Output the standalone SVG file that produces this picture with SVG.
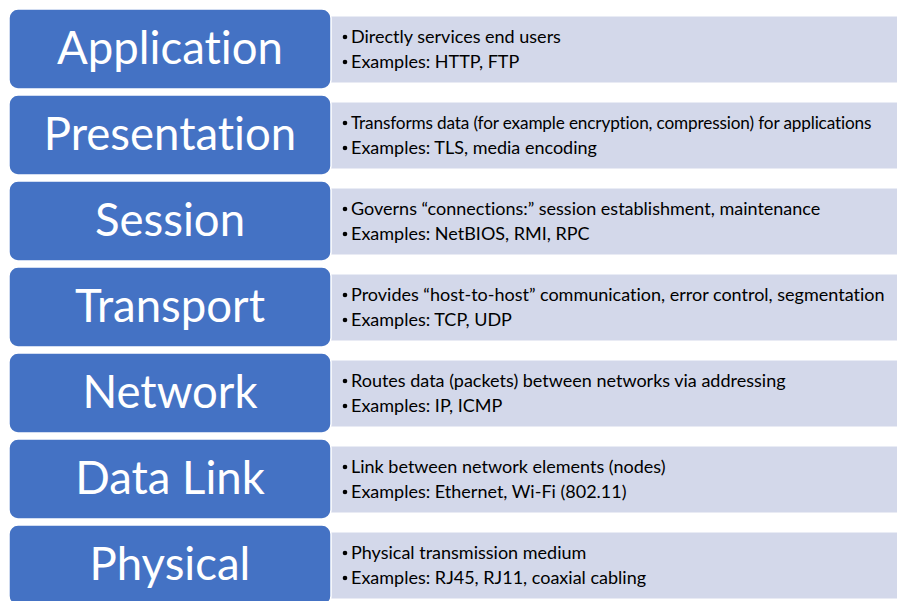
<svg xmlns="http://www.w3.org/2000/svg" width="897" height="601" viewBox="0 0 897 601">
<style>
.blue{fill:#4472C4;stroke:#ffffff;stroke-width:1.5}
.light{fill:#D3D8EA;stroke:#ffffff;stroke-width:1}
.h{font-family:Lato,"Open Sans",sans-serif;font-size:45.5px;fill:#ffffff;text-anchor:middle;font-variant-ligatures:none}
.b{font-family:Lato,"Open Sans",sans-serif;font-size:18px;fill:#000000;font-variant-ligatures:none}
.d{fill:#000000}
</style>
<defs><circle id="dot" r="2.3" class="d"/></defs>
<rect width="897" height="601" fill="#ffffff"/>
<g id="application" transform="translate(0,9)">
<rect class="light" x="330" y="7" width="580" height="67"/>
<rect class="blue" x="9" y="0" width="322" height="80" rx="9"/>
<text class="h" x="170" y="55">Application</text>
<use href="#dot" x="345" y="28"/><text class="b" x="351" y="34">Directly services end users</text>
<use href="#dot" x="345" y="53"/><text class="b" x="351" y="59">Examples: HTTP, FTP</text>
</g>
<g id="presentation" transform="translate(0,95)">
<rect class="light" x="330" y="7" width="580" height="67"/>
<rect class="blue" x="9" y="0" width="322" height="80" rx="9"/>
<text class="h" x="170" y="55">Presentation</text>
<use href="#dot" x="345" y="28"/><text class="b" x="351" y="34" style="font-size:17.2px;letter-spacing:-0.15px">Transforms data (for example encryption, compression) for applications</text>
<use href="#dot" x="345" y="53"/><text class="b" x="351" y="59">Examples: TLS, media encoding</text>
</g>
<g id="session" transform="translate(0,181)">
<rect class="light" x="330" y="7" width="580" height="67"/>
<rect class="blue" x="9" y="0" width="322" height="80" rx="9"/>
<text class="h" x="170" y="55">Session</text>
<use href="#dot" x="345" y="28"/><text class="b" x="351" y="34">Governs “connections:” session establishment, maintenance</text>
<use href="#dot" x="345" y="53"/><text class="b" x="351" y="59">Examples: NetBIOS, RMI, RPC</text>
</g>
<g id="transport" transform="translate(0,267)">
<rect class="light" x="330" y="7" width="580" height="67"/>
<rect class="blue" x="9" y="0" width="322" height="80" rx="9"/>
<text class="h" x="170" y="55">Transport</text>
<use href="#dot" x="345" y="28"/><text class="b" x="351" y="34">Provides “host-to-host” communication, error control, segmentation</text>
<use href="#dot" x="345" y="53"/><text class="b" x="351" y="59">Examples: TCP, UDP</text>
</g>
<g id="network" transform="translate(0,353)">
<rect class="light" x="330" y="7" width="580" height="67"/>
<rect class="blue" x="9" y="0" width="322" height="80" rx="9"/>
<text class="h" x="170" y="55">Network</text>
<use href="#dot" x="345" y="28"/><text class="b" x="351" y="34">Routes data (packets) between networks via addressing</text>
<use href="#dot" x="345" y="53"/><text class="b" x="351" y="59">Examples: IP, ICMP</text>
</g>
<g id="datalink" transform="translate(0,439)">
<rect class="light" x="330" y="7" width="580" height="67"/>
<rect class="blue" x="9" y="0" width="322" height="80" rx="9"/>
<text class="h" x="170" y="55">Data Link</text>
<use href="#dot" x="345" y="28"/><text class="b" x="351" y="34">Link between network elements (nodes)</text>
<use href="#dot" x="345" y="53"/><text class="b" x="351" y="59">Examples: Ethernet, Wi-Fi (802.11)</text>
</g>
<g id="physical" transform="translate(0,525)">
<rect class="light" x="330" y="7" width="580" height="67"/>
<rect class="blue" x="9" y="0" width="322" height="80" rx="9"/>
<text class="h" x="170" y="55">Physical</text>
<use href="#dot" x="345" y="28"/><text class="b" x="351" y="34">Physical transmission medium</text>
<use href="#dot" x="345" y="53"/><text class="b" x="351" y="59">Examples: RJ45, RJ11, coaxial cabling</text>
</g>
<g id="connectors"/>
</svg>
